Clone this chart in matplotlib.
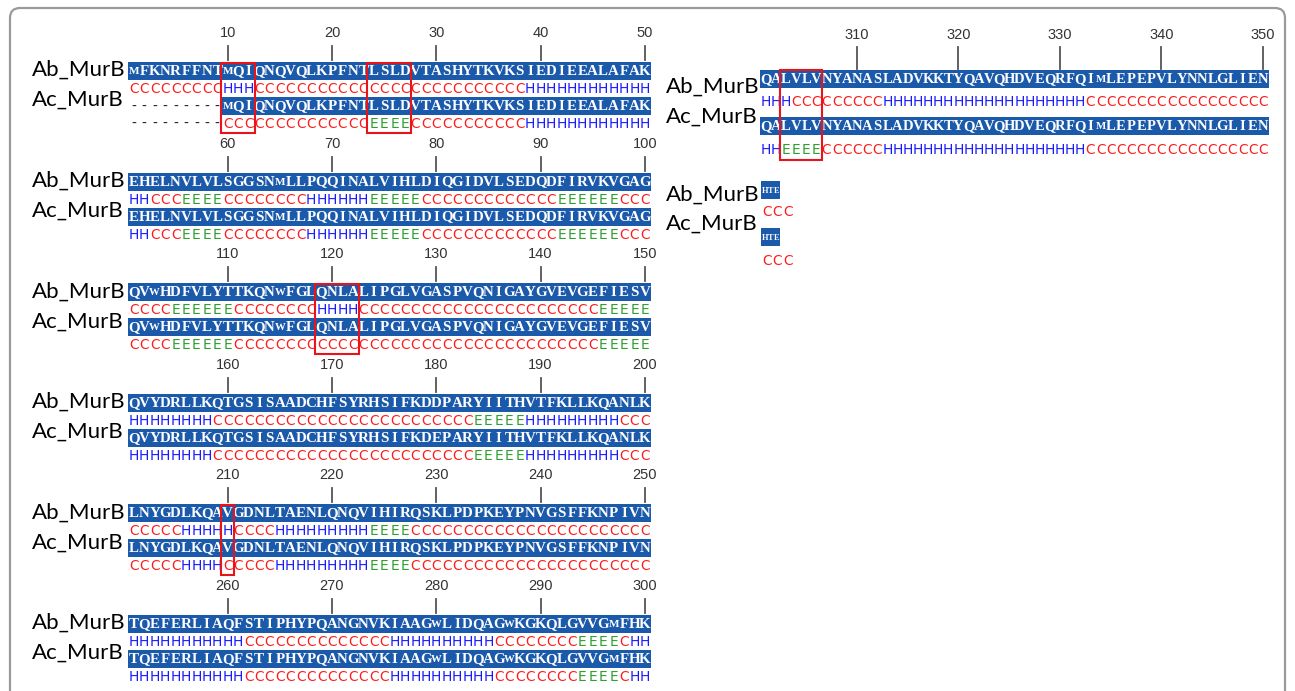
import matplotlib
matplotlib.use('Agg')
import matplotlib.pyplot as plt
from matplotlib.patches import Rectangle, FancyBboxPatch

# ---------------- data ----------------
block_start = [1, 51, 101, 151, 201, 251, 301, 351]

ab_seq_rows = [
    "MFKNRFFNTMQIQNQVQLKPFNTLSLDVTASHYTKVKSIEDIEEALAFAK",
    "EHELNVLVLSGGSNMLLPQQINALVIHLDIQGIDVLSEDQDFIRVKVGAG",
    "QVWHDFVLYTTKQNWFGLQNLALIPGLVGASPVQNIGAYGVEVGEFIESV",
    "QVYDRLLKQTGSISAADCHFSYRHSIFKDDPARYIITHVTFKLLKQANLK",
    "LNYGDLKQAVGDNLTAENLQNQVIHIRQSKLPDPKEYPNVGSFFKNPIVN",
    "TQEFERLIAQFSTIPHYPQANGNVKIAAGWLIDQAGWKGKQLGVVGMFHK",
    "QALVLVNYANASLADVKKTYQAVQHDVEQRFQIMLEPEPVLYNNLGLIEN",
    "HTE",
]
ac_seq_rows = [
    "---------MQIQNQVQLKPFNTLSLDVTASHYTKVKSIEDIEEALAFAK",
    "EHELNVLVLSGGSNMLLPQQINALVIHLDIQGIDVLSEDQDFIRVKVGAG",
    "QVWHDFVLYTTKQNWFGLQNLALIPGLVGASPVQNIGAYGVEVGEFIESV",
    "QVYDRLLKQTGSISAADCHFSYRHSIFKDEPARYIITHVTFKLLKQANLK",
    "LNYGDLKQAVGDNLTAENLQNQVIHIRQSKLPDPKEYPNVGSFFKNPIVN",
    "TQEFERLIAQFSTIPHYPQANGNVKIAAGWLIDQAGWKGKQLGVVGMFHK",
    "QALVLVNYANASLADVKKTYQAVQHDVEQRFQIMLEPEPVLYNNLGLIEN",
    "HTE",
]
ab_ss_rows = [
    "CCCCCCCCCHHHCCCCCCCCCCCCCCCCCCCCCCCCCCHHHHHHHHHHHH",
    "HHCCCEEEECCCCCCCCHHHHHHEEEEECCCCCCCCCCCCCEEEEEECCC",
    "CCCCEEEEEECCCCCCCCHHHHCCCCCCCCCCCCCCCCCCCCCCCEEEEE",
    "HHHHHHHHCCCCCCCCCCCCCCCCCCCCCCCCCEEEEEHHHHHHHHHCCC",
    "CCCCCHHHHHCCCCHHHHHHHHHEEEECCCCCCCCCCCCCCCCCCCCCCC",
    "HHHHHHHHHHHCCCCCCCCCCCCCCHHHHHHHHHHCCCCCCCCEEEECHH",
    "HHHCCCCCCCCCHHHHHHHHHHHHHHHHHHHHCCCCCCCCCCCCCCCCCC",
    "CCC",
]
ac_ss_rows = [
    "---------CCCCCCCCCCCCCCEEEECCCCCCCCCCCHHHHHHHHHHHH",
    "HHCCCEEEECCCCCCCCHHHHHHEEEEECCCCCCCCCCCCCEEEEEECCC",
    "CCCCEEEEEECCCCCCCCCCCCCCCCCCCCCCCCCCCCCCCCCCCEEEEE",
    "HHHHHHHHCCCCCCCCCCCCCCCCCCCCCCCCCEEEEEHHHHHHHHHCCC",
    "CCCCCHHHHCCCCCHHHHHHHHHEEEECCCCCCCCCCCCCCCCCCCCCCC",
    "HHHHHHHHHHHCCCCCCCCCCCCCCHHHHHHHHHHCCCCCCCCEEEECHH",
    "HHEEEECCCCCCHHHHHHHHHHHHHHHHHHHHCCCCCCCCCCCCCCCCCC",
    "CCC",
]
names = ["Ab_MurB", "Ac_MurB"]
# highlighted residue ranges (first, last)
boxes = [(10, 12), (24, 27), (119, 122), (210, 210), (303, 306)]

ss_colors = {"C": "#ff1a1a", "H": "#1a1aff", "E": "#2e9e2e", "-": "#222222"}
bar_color = "#1b5aab"

# ---------------- layout ----------------
left = []
for i in range(6):
    y0 = 33 + 110.6 * i
    left.append(dict(x0=128.6, w=10.43, wss=10.43, tick_y=y0, tl0=y0 + 13, tl1=y0 + 27,
                     ab=(y0 + 29, y0 + 47), abss=y0 + 56, ac=(y0 + 64, y0 + 82), acss=y0 + 91,
                     lab=(y0 + 37, y0 + 67), labx=32, box=(y0 + 30, y0 + 100)))
layouts = left + [
    dict(x0=760.5, w=10.15, wss=10.15, tick_y=35, tl0=47, tl1=69,
         ab=(70, 88), abss=102, ac=(117, 135), acss=150,
         lab=(87, 117), labx=666, box=(70, 160)),
    dict(x0=762, w=5.8, wss=10.2, tick_y=None, tl0=None, tl1=None,
         ab=(181, 199), abss=212, ac=(228, 246), acss=261,
         lab=(195, 224), labx=666, box=None),
]

W, H = 1295, 691
fig = plt.figure(figsize=(W / 100, H / 100), dpi=100)
ax = fig.add_axes([0, 0, 1, 1])
ax.set_xlim(0, W)
ax.set_ylim(H, 0)
ax.axis('off')

ax.add_patch(FancyBboxPatch((10, 8), 1275, 720, boxstyle="round,pad=0,rounding_size=10",
                            fc='white', ec='#9a9a9a', lw=1.6, zorder=0))

seq_font = dict(family='Liberation Serif', weight='bold')
ss_font = dict(family='DejaVu Sans')
wide = {'M': 0.74, 'W': 0.72}


def draw_seq(L, start, row, yr):
    w = L['w']
    idx = [k for k, c in enumerate(row) if c != '-']
    if idx:
        a, b = idx[0], idx[-1]
        ax.add_patch(Rectangle((L['x0'] + a * w - 1, yr[0]), (b - a + 1) * w + 2, yr[1] - yr[0],
                               fc=bar_color, ec='none', zorder=1))
    yc = (yr[0] + yr[1]) / 2 + 0.5
    fs = 10.8 * w / 10.43
    for k, c in enumerate(row):
        x = L['x0'] + (k + 0.5) * w
        if c == '-':
            ax.text(x, yc, '-', ha='center', va='center', fontsize=10, color='#222222',
                    family='DejaVu Sans', zorder=2)
        else:
            ax.text(x, yc, c, ha='center', va='center', fontsize=fs * wide.get(c, 1.0),
                    color='white', zorder=2, **seq_font)


def draw_ss(L, row, y):
    w = L['wss']
    for k, c in enumerate(row):
        x = L['x0'] + (k + 0.5) * w
        ax.text(x, y, c, ha='center', va='center', fontsize=9.9, color=ss_colors[c],
                zorder=2, **ss_font)


for i, L in enumerate(layouts):
    start = block_start[i]
    n = len(ab_seq_rows[i])
    # ruler
    if L['tick_y'] is not None:
        for k in range(n):
            pos = start + k
            if pos % 10 == 0:
                x = L['x0'] + (k + 0.5) * L['w']
                ax.plot([x, x], [L['tl0'], L['tl1']], color='#555555', lw=1.3, zorder=1)
                ax.text(x, L['tick_y'], str(pos), ha='center', va='center', fontsize=10.5,
                        color='#333333', family='Liberation Sans')
    # names
    for nm, yl in zip(names, L['lab']):
        ax.text(L['labx'], yl, nm, ha='left', va='center', fontsize=16, color='black',
                family='Lato')
    draw_seq(L, start, ab_seq_rows[i], L['ab'])
    draw_ss(L, ab_ss_rows[i], L['abss'])
    draw_seq(L, start, ac_seq_rows[i], L['ac'])
    draw_ss(L, ac_ss_rows[i], L['acss'])
    # boxes
    if L['box'] is not None:
        for b0, b1 in boxes:
            if start <= b0 < start + n:
                x = L['x0'] + (b0 - start) * L['w'] - 1
                wd = (b1 - b0 + 1) * L['w'] + 2
                ax.add_patch(Rectangle((x, L['box'][0]), wd, L['box'][1] - L['box'][0],
                                       fill=False, ec='#e8141a', lw=1.5, zorder=3))

fig.savefig('out.png', dpi=100)
